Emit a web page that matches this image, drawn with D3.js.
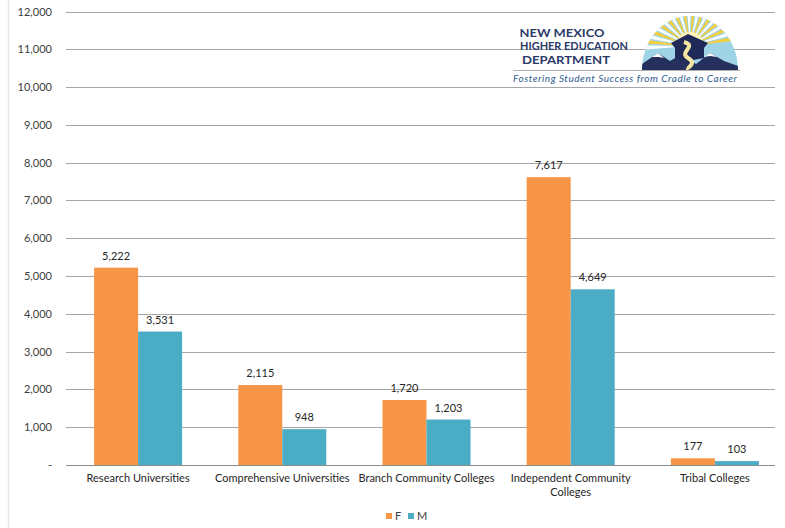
<!DOCTYPE html>
<html>
<head>
<meta charset="utf-8">
<script src="https://d3js.org/d3.v7.min.js"></script>
<style>
body{margin:0;background:#fff;}
text{font-family:Lato,"Open Sans",sans-serif;}
</style>
</head>
<body>
<svg id="chart" width="785" height="528"></svg>
<script>
// data
var categories = ["Research Universities","Comprehensive Universities","Branch Community Colleges","Independent Community Colleges","Tribal Colleges"];
var catLines = [["Research Universities"],["Comprehensive Universities"],["Branch Community Colleges"],["Independent Community","Colleges"],["Tribal Colleges"]];
var seriesNames = ["F","M"];
var femaleVals = [5222,2115,1720,7617,177];
var maleVals = [3531,948,1203,4649,103];
var yTicks = [0,1000,2000,3000,4000,5000,6000,7000,8000,9000,10000,11000,12000];
var colors = ["#F79646","#4BACC6"];

var svg = d3.select("#chart");
var top0=11.5, bot=465, left=66, right=787;

// faint left border
svg.append("line").attr("x1",8.5).attr("x2",8.5).attr("y1",0).attr("y2",528).attr("stroke","#dfe5ec").attr("stroke-width",1.5);

var y = d3.scaleLinear().domain([0,12000]).range([bot,top0]);
var x0 = d3.scaleBand().domain(categories).range([left,right]).paddingInner(0).paddingOuter(0);
var barW = 44;

// gridlines
svg.append("g").selectAll("line").data(yTicks.filter(function(d){return d>0;})).enter().append("line")
  .attr("x1",66).attr("x2",775)
  .attr("y1",function(d){return Math.round(y(d))+0.5;}).attr("y2",function(d){return Math.round(y(d))+0.5;})
  .attr("stroke","#a6a6a6").attr("stroke-width",1);

// y labels
svg.append("g").selectAll("text").data(yTicks).enter().append("text")
  .attr("x",52).attr("y",function(d){return y(d)+4;})
  .attr("text-anchor","end").attr("font-size","11px").attr("fill","#404040")
  .text(function(d){return d===0?"-":d3.format(",")(d);});

// logo
var logo = svg.append("g");
var cx=690, cy=70, rx=48, ry=54;
var defs = svg.append("defs");
defs.append("clipPath").attr("id","semi").append("path")
  .attr("d","M"+(cx-rx)+","+cy+"A"+rx+","+ry+" 0 0 1 "+(cx+rx)+","+cy+"Z");
var lg = logo.append("g").attr("clip-path","url(#semi)");
lg.append("rect").attr("x",cx-rx).attr("y",cy-ry).attr("width",2*rx).attr("height",ry).attr("fill","#9fd3e6");
var sx=cx, sy=cy-24;
d3.range(0,24).forEach(function(i){
  var a = Math.PI + (i+0.5)*Math.PI/24 - 0.1;
  var w = 0.045;
  lg.append("path").attr("d","M"+sx+","+sy+"L"+(sx+80*Math.cos(a-w))+","+(sy+80*Math.sin(a-w))+"L"+(sx+80*Math.cos(a+w))+","+(sy+80*Math.sin(a+w))+"Z")
    .attr("fill", i%2 ? "#f3cf3f" : "#ffffff");
});
lg.append("circle").attr("cx",sx).attr("cy",sy).attr("r",14).attr("fill","#fff4b8");
// mountains
lg.append("path").attr("d","M"+(cx-rx)+","+cy+"L"+(cx-rx)+","+(cy-6)+"L"+(cx-32)+","+(cy-17)+"L"+(cx-20)+","+(cy-9)+"L"+(cx-8)+","+(cy-16)+"L"+(cx+6)+","+(cy-6)+"L"+(cx+20)+","+(cy-17)+"L"+(cx+34)+","+(cy-9)+"L"+(cx+rx)+","+(cy-4)+"L"+(cx+rx)+","+cy+"Z").attr("fill","#25305f");
lg.append("path").attr("d","M"+(cx-38)+","+(cy-13)+"L"+(cx-32)+","+(cy-17)+"L"+(cx-26)+","+(cy-12)+"L"+(cx-31)+","+(cy-13)+"Z M"+(cx+14)+","+(cy-13)+"L"+(cx+20)+","+(cy-17)+"L"+(cx+27)+","+(cy-13)+"L"+(cx+20)+","+(cy-14)+"Z").attr("fill","#ffffff");
// cap
lg.append("path").attr("d","M"+(cx-19)+","+(cy-27)+"L"+(cx-2)+","+(cy-36)+"L"+(cx+18)+","+(cy-27)+"L"+(cx+14)+","+(cy-22)+"L"+(cx+14)+","+(cy-12)+"L"+(cx-2)+","+(cy-9)+"L"+(cx-15)+","+(cy-12)+"L"+(cx-15)+","+(cy-22)+"Z").attr("fill","#1f2a58");
// road
lg.append("path").attr("d","M"+(cx-6)+","+(cy-28)+"C"+(cx+8)+","+(cy-24)+" "+(cx-12)+","+(cy-18)+" "+(cx-2)+","+(cy-12)+"C"+(cx+8)+","+(cy-6)+" "+(cx-4)+","+(cy-3)+" "+(cx-2)+","+cy)
  .attr("fill","none").attr("stroke","#f5e7a0").attr("stroke-width",4);
logo.append("line").attr("x1",513).attr("x2",740).attr("y1",70.5).attr("y2",70.5).attr("stroke","#9a9a9a").attr("stroke-width",0.8);
var navy="#2b3a67";
logo.append("text").attr("x",562).attr("y",36.5).attr("text-anchor","middle").attr("font-size","11.5px").attr("font-weight","bold").attr("fill",navy).attr("textLength",85).attr("lengthAdjust","spacingAndGlyphs").text("NEW MEXICO");
logo.append("text").attr("x",574).attr("y",50).attr("text-anchor","middle").attr("font-size","11.5px").attr("font-weight","bold").attr("fill",navy).attr("textLength",108).attr("lengthAdjust","spacingAndGlyphs").text("HIGHER EDUCATION");
logo.append("text").attr("x",566).attr("y",63.5).attr("text-anchor","middle").attr("font-size","11.5px").attr("font-weight","bold").attr("fill",navy).attr("textLength",88).attr("lengthAdjust","spacingAndGlyphs").text("DEPARTMENT");
logo.append("text").attr("x",625).attr("y",82).attr("text-anchor","middle").attr("font-size","10px").attr("font-style","italic").attr("fill","#2d5c8e").attr("textLength",224).text("Fostering Student Success from Cradle to Career");

// bars
var groups = svg.append("g").selectAll("g").data(categories).enter().append("g");
groups.each(function(c,i){
  var g = d3.select(this);
  var cxm = x0(c)+x0.bandwidth()/2;
  [femaleVals[i],maleVals[i]].forEach(function(v,j){
    var bx = cxm - barW + j*barW;
    g.append("rect").attr("x",bx).attr("y",y(v)).attr("width",barW).attr("height",bot-y(v)).attr("fill",colors[j]);
    g.append("text").attr("x",bx+barW/2).attr("y",y(v)-8).attr("text-anchor","middle").attr("font-size","11px").attr("fill","#262626").text(d3.format(",")(v));
  });
  catLines[i].forEach(function(t,k){
    g.append("text").attr("x",cxm).attr("y",482+k*14).attr("text-anchor","middle").attr("font-size","11px").attr("fill","#262626").text(t);
  });
});

// baseline
svg.append("line").attr("x1",66).attr("x2",775).attr("y1",bot+0.5).attr("y2",bot+0.5).attr("stroke","#8c8c8c").attr("stroke-width",1);

// legend
var leg = svg.append("g");
seriesNames.forEach(function(s,j){
  var lx = 386 + j*22;
  leg.append("rect").attr("x",lx).attr("y",513).attr("width",6).attr("height",6).attr("fill",colors[j]);
  leg.append("text").attr("x",lx+9).attr("y",520).attr("font-size","11px").attr("fill","#404040").text(s);
});
</script>
</body>
</html>
